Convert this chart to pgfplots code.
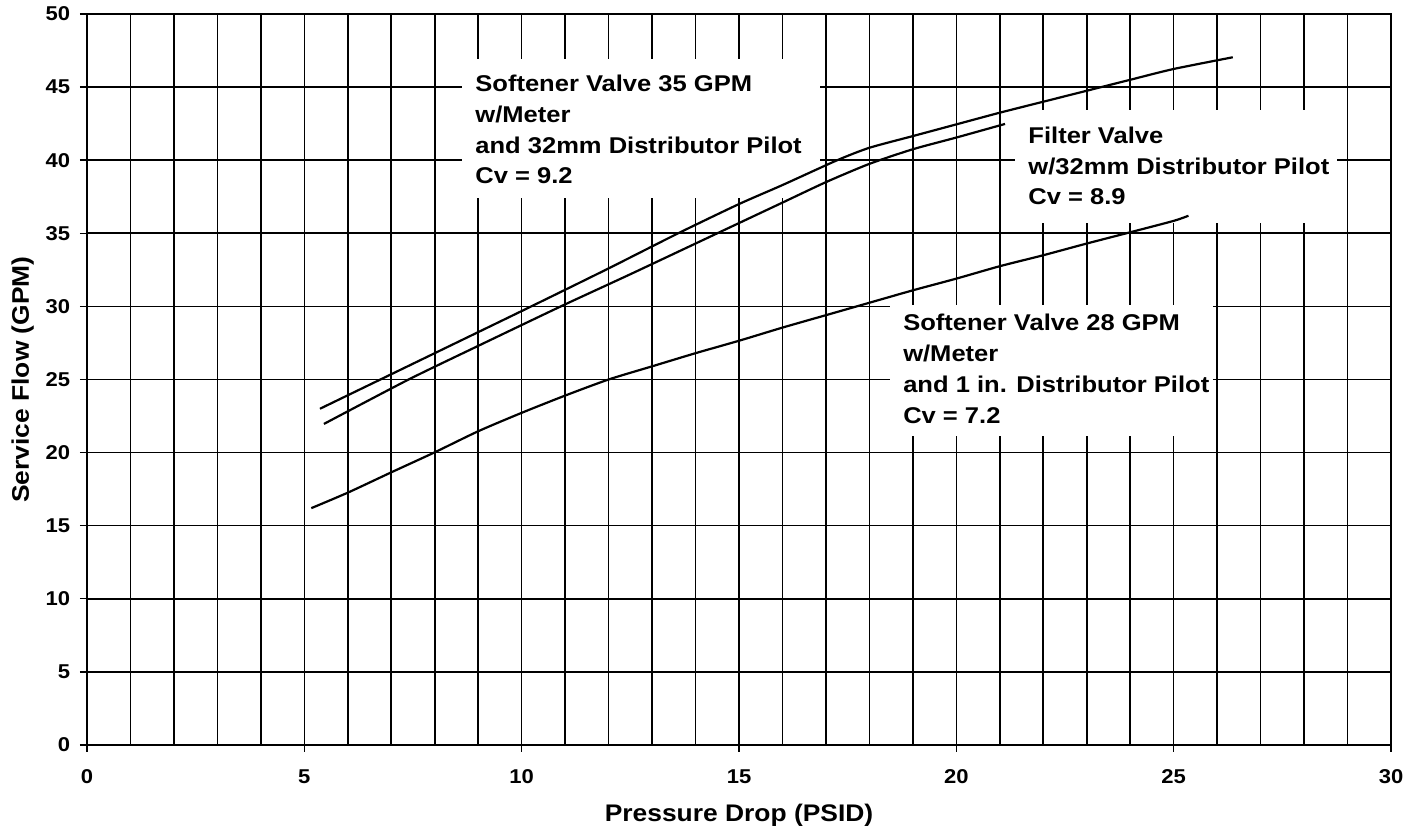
\documentclass[border=0pt]{standalone}
\usepackage{pgfplots}
\pgfplotsset{compat=1.18}
\usepackage{fontspec}
\setmainfont[FakeStretch=1.1]{Liberation Sans}
\newfontfamily\annfont[FakeStretch=1.12]{Liberation Sans}

\begin{document}
\begin{tikzpicture}
\useasboundingbox (0,0) rectangle (711.5pt,417pt);
\begin{axis}[
  at={(43.5pt,44.5pt)}, anchor=south west,
  scale only axis, width=652pt, height=365.5pt,
  xmin=0, xmax=30, ymin=0, ymax=50,
  xtick={0,5,...,30}, minor xtick={0,1,...,30},
  ytick={0,5,...,50},
  grid=both,
  major grid style={black, line width=0.8pt},
  minor grid style={black, line width=0.8pt},
  axis line style={black, line width=0.8pt},
  tick align=outside, tick pos=left,
  major tick length=3.5pt, minor tick length=0pt,
  tick style={black, line width=0.7pt},
  /pgf/number format/assume math mode=true,
  ticklabel style={font=\fontsize{10}{11}\selectfont\bfseries},
  yticklabel style={inner sep=0pt, anchor=east, xshift=-4.75pt},
  xticklabel style={inner sep=0pt, anchor=north, yshift=-8.5pt},
  xlabel={Pressure Drop (PSID)},
  ylabel={Service Flow (GPM)},
  label style={font=\fontsize{12}{14}\selectfont\bfseries},
  xlabel style={at={(axis description cs:0.5,-0.104)}, anchor=base, inner sep=0pt},
  ylabel style={at={(axis description cs:-0.0445,0.5)}, anchor=base, inner sep=0pt},
]
% white label boxes (above grid, below curves)
\fill[white] (axis cs:8.63,37.41) rectangle (axis cs:16.86,46.92);
\fill[white] (axis cs:21.35,35.70) rectangle (axis cs:28.76,43.43);
\fill[white] (axis cs:18.47,21.14) rectangle (axis cs:25.90,30.10);

% Softener Valve 35 GPM, Cv = 9.2
\addplot[black, line width=1.1pt, smooth, tension=0.4] coordinates {
(5.36,23.0) (6.75,25.0) (8,26.8) (10.22,30.0) (12,32.6) (13.6,35.0) (15,37.0)
(16,38.3) (17.26,40.0) (18,40.85) (19,41.65) (20,42.45) (21,43.25) (22,44.0)
(23.2,44.9) (24,45.5) (25,46.24) (26.36,47.04)};
% Filter Valve, Cv = 8.9
\addplot[black, line width=1.1pt, smooth, tension=0.4] coordinates {
(5.45,21.96) (7.4,25.0) (9,27.3) (10.9,30.0) (12.5,32.2) (14.5,35.0) (15,35.7)
(16,37.1) (17,38.5) (18,39.75) (19,40.75) (20,41.55) (21.12,42.48)};
% Softener Valve 28 GPM, Cv = 7.2
\addplot[black, line width=1.1pt, smooth, tension=0.4] coordinates {
(5.16,16.2) (6,17.26) (7,18.65) (8,20.02) (9,21.46) (10,22.72) (11,23.9)
(12,25.0) (13,25.9) (14,26.8) (15,27.65) (16,28.55) (17,29.4) (18,30.25)
(19,31.1) (20,31.9) (21,32.75) (22,33.5) (23,34.3) (24,35.07) (25,35.85) (25.34,36.2)};

\begin{scope}[every node/.style={anchor=base west, inner sep=0pt, font=\annfont\fontsize{11.4}{13}\selectfont\bfseries}]
\node at (axis cs:8.926,44.68) {Softener Valve 35 GPM};
\node at (axis cs:8.926,42.58) {w/Meter};
\node at (axis cs:8.926,40.49) {and 32mm Distributor Pilot};
\node at (axis cs:8.926,38.39) {Cv = 9.2};
\node at (axis cs:21.65,41.11) {Filter Valve};
\node at (axis cs:21.65,39.02) {w/32mm Distributor Pilot};
\node at (axis cs:21.65,36.94) {Cv = 8.9};
\node at (axis cs:18.77,28.34) {Softener Valve 28 GPM};
\node at (axis cs:18.77,26.22) {w/Meter};
\node at (axis cs:18.77,24.10) {and 1 in. Distributor Pilot};
\node at (axis cs:18.77,22.02) {Cv = 7.2};
\end{scope}
\end{axis}
\end{tikzpicture}
\end{document}
